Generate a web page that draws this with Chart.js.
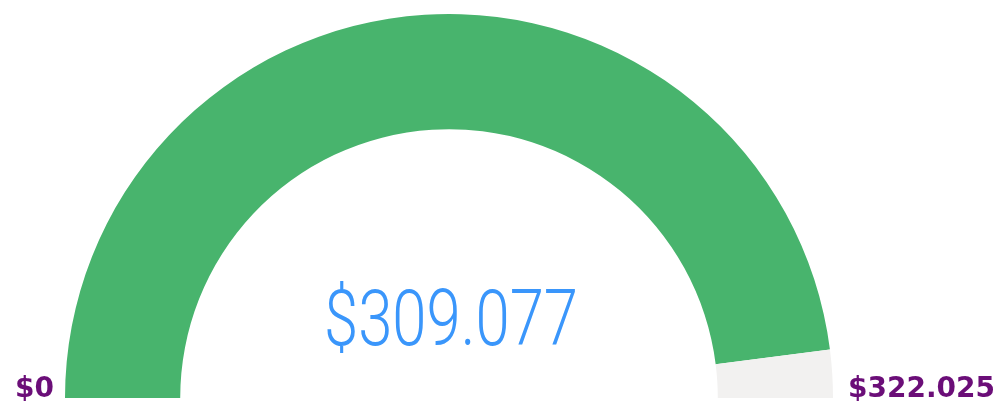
<!DOCTYPE html>
<html>
<head>
<meta charset="utf-8">
<script src="https://cdn.jsdelivr.net/npm/chart.js@4/dist/chart.umd.min.js"></script>
<style>
  html, body { margin: 0; padding: 0; background: #fff; }
  #wrap { width: 1004px; height: 401px; position: relative; }
</style>
</head>
<body>
<div id="wrap"><canvas id="gauge" width="1004" height="401"></canvas></div>
<script>
// valores do medidor
const gaugeLabels = ['Valor', 'Restante'];
const gaugeMin = 0;
const gaugeMax = 322025;
const gaugeValue = 309077;
const gaugeColors = ['#48b46d', '#f2f1f0'];

function fmt(v) {
  return '$' + v.toString().replace(/\B(?=(\d{3})+(?!\d))/g, '.');
}

// textos: valor central e limites min/max
const gaugeText = {
  id: 'gaugeText',
  afterDraw(chart) {
    const ctx = chart.ctx;
    ctx.save();
    ctx.textBaseline = 'alphabetic';

    // valor central (fonte fina e estreita)
    ctx.font = '300 77px Roboto';
    ctx.fillStyle = '#3a96fb';
    const txt = fmt(gaugeValue);
    const w = ctx.measureText(txt).width;
    const sx = 254 / w;
    ctx.translate(451, 345);
    ctx.scale(sx, 1);
    ctx.textAlign = 'center';
    ctx.fillText(txt, 0, 0);
    ctx.restore();

    ctx.save();
    ctx.font = 'bold 28px "DejaVu Sans"';
    ctx.fillStyle = '#6b0e78';
    ctx.textAlign = 'left';
    ctx.fillText(fmt(gaugeMin), 15, 397);
    ctx.fillText(fmt(gaugeMax), 848, 397);
    ctx.restore();
  }
};

new Chart(document.getElementById('gauge').getContext('2d'), {
  type: 'doughnut',
  data: {
    labels: gaugeLabels,
    datasets: [{
      data: [gaugeValue, gaugeMax - gaugeValue],
      backgroundColor: gaugeColors,
      borderWidth: 0,
      hoverOffset: 0
    }]
  },
  options: {
    responsive: false,
    animation: false,
    rotation: -90,
    circumference: 180,
    cutout: '70%',
    layout: { padding: { left: 65, right: 171, top: 14, bottom: 3 } },
    plugins: {
      legend: { display: false },
      tooltip: { enabled: false }
    }
  },
  plugins: [gaugeText]
});
</script>
</body>
</html>
